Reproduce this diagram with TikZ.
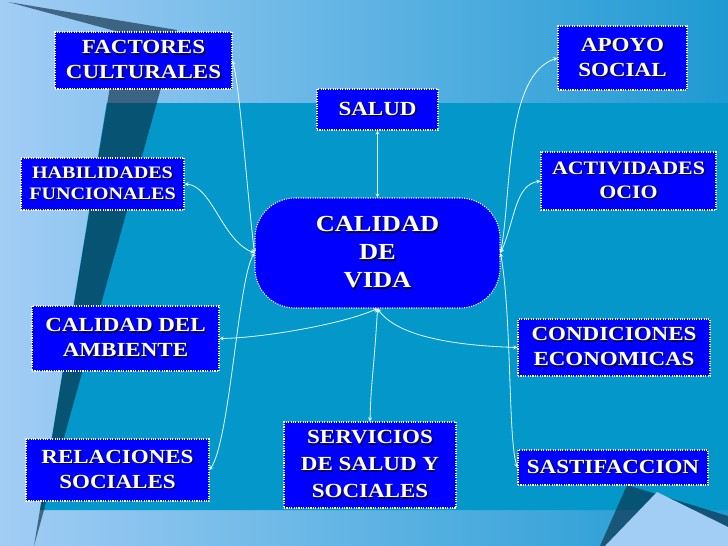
\documentclass[tikz,border=0pt]{standalone}
\usepackage{fontspec}
\setmainfont{Liberation Serif}[FakeStretch=1.15]
\usetikzlibrary{arrows}
\definecolor{boxblue}{HTML}{0000FF}
\definecolor{tealbg}{HTML}{0398C9}
\definecolor{skyl}{HTML}{A2CDF5}
\definecolor{skym}{HTML}{84BFEC}
\definecolor{skyr}{HTML}{1E9AD2}
\definecolor{stripe}{HTML}{0A2A40}
\definecolor{linec}{HTML}{E6FFFF}
\definecolor{shadowc}{HTML}{0A0A38}
\newcommand{\shd}[1]{\leavevmode\rlap{\kern1.5pt\raisebox{-1.5pt}{\textcolor{shadowc}{#1}}}#1}

\begin{document}
\begin{tikzpicture}[x=1pt,y=-1pt]
       \tikzstyle{arrow} = [draw=linec,line width=0.8pt,<->,>=stealth]
       \tikzset{box/.style = {rectangle, fill=boxblue, draw=white, line width=1.1pt, dash pattern=on 1.1pt off 1.3pt, text=white, font=\bfseries\fontsize{20}{25}\selectfont, align=center, inner sep=0pt}, }
       \tikzset{vida/.style = {box, rounded corners=40pt, font=\bfseries\fontsize{23}{28}\selectfont}, }
       \tikzset{small/.style = {font=\bfseries\fontsize{17.5}{21}\selectfont}, }

       \useasboundingbox (0,0) rectangle (728,546);
       \shade[left color=skyl, middle color=skym, right color=skyr] (0,0) rectangle (728,546);
       \fill[tealbg] (106.7,103) -- (728,103) -- (728,510) -- (40,510) -- cycle;
       \fill[stripe,opacity=0.62] (8,2) -- (177,30) -- (34,546) -- (119,32) -- cycle;
       \fill[stripe,opacity=0.62] (600,546) -- (627,485) -- (728,516) -- (728,546) -- cycle;
       \fill[skyl] (605,546) -- (657,492) -- (728,527) -- (728,546) -- cycle;

       \node[vida, minimum width=245pt, minimum height=110pt] (CV) at (377.5,253) {\shd{CALIDAD}\\\shd{DE}\\\shd{VIDA}};
       \node[box, minimum width=177pt, minimum height=57pt] (FC) at (143.5,60.5) {\shd{FACTORES}\\\shd{CULTURALES}};
       \node[box, minimum width=121pt, minimum height=41pt] (SA) at (377.5,109.5) {\shd{SALUD}};
       \node[box, minimum width=129pt, minimum height=64pt] (AS) at (622.5,58) {\shd{APOYO}\\\shd{SOCIAL}};
       \node[box, small, minimum width=163pt, minimum height=52pt] (HF) at (102.5,184) {\shd{HABILIDADES}\\\shd{FUNCIONALES}};
       \node[box, minimum width=175pt, minimum height=58pt, font=\bfseries\fontsize{19}{24}\selectfont] (AO) at (628.5,181) {\shd{ACTIVIDADES}\\\shd{OCIO}};
       \node[box, minimum width=187pt, minimum height=65pt] (CA) at (125.5,338.5) {\shd{CALIDAD DEL}\\\shd{AMBIENTE}};
       \node[box, minimum width=183pt, minimum height=62pt] (RS) at (117.5,470) {\shd{RELACIONES}\\\shd{SOCIALES}};
       \node[box, minimum width=172pt, minimum height=86pt, font=\bfseries\fontsize{20}{27}\selectfont] (SS) at (370,465) {\shd{SERVICIOS}\\\shd{DE SALUD Y}\\\shd{SOCIALES}};
       \node[box, minimum width=192pt, minimum height=57pt] (CE) at (614,347.5) {\shd{CONDICIONES}\\\shd{ECONOMICAS}};
       \node[box, minimum width=190pt, minimum height=35pt] (ST) at (613,467.5) {\shd{SASTIFACCION}};

       \draw[arrow] (SA.south) -- (CV.north);
       \draw[arrow] (CV.west) .. controls (246,180) and (240,90) .. (FC.east);
       \draw[arrow] (CV.west) .. controls (222,240) and (212,186) .. (HF.east);
       \draw[arrow] (CV.west) .. controls (238,280) and (230,440) .. (RS.east);
       \draw[arrow] (CV.south) .. controls (340,325) and (260,338) .. (CA.east);
       \draw[arrow] (CV.south) .. controls (374,370) and (371,380) .. (SS.north);
       \draw[arrow] (CV.south) .. controls (400,340) and (470,346) .. (CE.west);
       \draw[arrow] (CV.east) .. controls (512,190) and (505,75) .. (AS.west);
       \draw[arrow] (CV.east) .. controls (515,220) and (515,185) .. (AO.west);
       \draw[arrow] (CV.east) .. controls (512,320) and (508,440) .. (ST.west);
\end{tikzpicture}
\end{document}
